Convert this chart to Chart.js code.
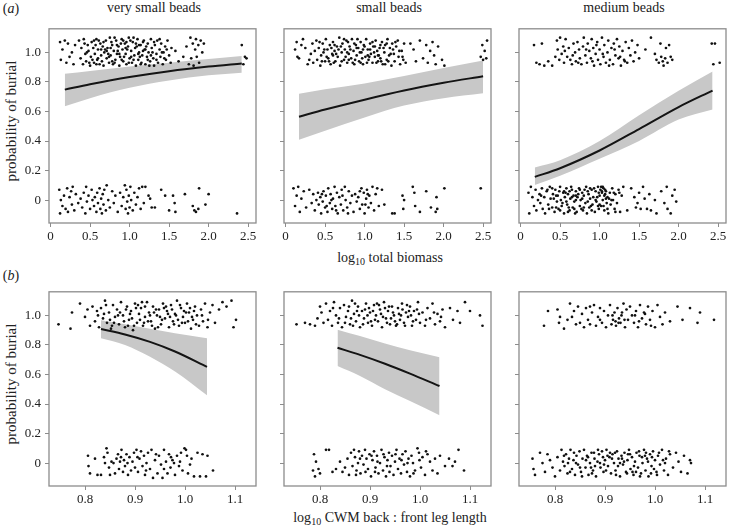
<!DOCTYPE html>
<html lang="en">
<head>
<meta charset="utf-8">
<title>probability of burial</title>
<script src="https://cdn.jsdelivr.net/npm/chart.js@4.4.1/dist/chart.umd.min.js"></script>
<style>
  body { margin:0; background:#fff; font-family:'Liberation Serif', 'Times New Roman', serif; color:#222; }
  #wrap { position:relative; width:730px; height:530px; overflow:hidden; }
  #wrap canvas { position:absolute; }
  .t { position:absolute; white-space:nowrap; transform:translate(-50%,-50%); font-size:14px; }
  .yt { position:absolute; white-space:nowrap; transform:translate(-50%,-50%) rotate(-90deg); font-size:15px; }
  sub { font-size:10px; vertical-align:-3px; line-height:0; }
</style>
</head>
<body>
<div id="wrap">
  <div class="t" style="left:11px;top:9px">(<i>a</i>)</div>
  <div class="t" style="left:11px;top:276px">(<i>b</i>)</div>
  <div class="t" style="left:154px;top:8px">very small beads</div>
  <div class="t" style="left:389px;top:8px">small beads</div>
  <div class="t" style="left:624px;top:8px">medium beads</div>
  <div class="yt" style="left:11px;top:121px">probability of burial</div>
  <div class="yt" style="left:11px;top:384px">probability of burial</div>
  <div class="t" style="left:390px;top:258px">log<sub>10</sub> total biomass</div>
  <div class="t" style="left:390px;top:518px">log<sub>10</sub> CWM back : front leg length</div>
  <canvas id="a1" width="259" height="230" style="left:1px;top:17px"></canvas>
  <canvas id="a2" width="259" height="230" style="left:236px;top:17px"></canvas>
  <canvas id="a3" width="259" height="230" style="left:471px;top:17px"></canvas>
  <canvas id="b1" width="259" height="230" style="left:1px;top:280px"></canvas>
  <canvas id="b2" width="259" height="230" style="left:236px;top:280px"></canvas>
  <canvas id="b3" width="259" height="230" style="left:471px;top:280px"></canvas>
</div>
<script>
// tick labels
var yTicks = [0, 0.2, 0.4, 0.6, 0.8, 1.0];
var xTicksA = [0, 0.5, 1.0, 1.5, 2.0, 2.5];
var xTicksB = [0.8, 0.9, 1.0, 1.1];

// jittered observations: buried (around 1) and not buried (around 0)
// (a) log10 total biomass
var a1Buried = [[0.12,1.07],[0.13,0.95],[0.15,1.02],[0.18,1.08],[0.2,0.93],[0.22,1.06],[0.24,0.97],[0.27,1.0],[0.29,0.92],[0.31,1.05],
[0.36,1.08],[0.38,0.96],[0.39,1.03],[0.41,0.92],[0.42,1.09],[0.44,0.99],[0.45,0.94],[0.47,1.05],[0.48,1.01],[0.5,0.91],[0.51,0.97],[0.52,1.07],[0.54,1.03],[0.55,0.93],[0.56,0.99],[0.58,1.09],[0.59,0.95],[0.6,1.02],[0.62,0.92],[0.63,1.06],[0.64,0.98],[0.66,1.04],[0.67,0.91],[0.68,1.0],[0.7,1.08],[0.71,0.96],[0.72,1.03],[0.74,0.93],[0.75,1.1],[0.76,0.98],[0.78,1.05],[0.79,0.92],[0.8,1.01],[0.82,0.95],[0.83,1.08],[0.84,0.99],[0.86,1.04],[0.87,0.91],[0.88,0.97],[0.9,1.09],[0.91,1.02],[0.92,0.94],[0.94,1.06],[0.95,0.99],[0.96,0.92],[0.98,1.04],[0.99,1.1],[1.0,0.96],[1.02,1.01],[1.03,0.93],[1.04,1.07],[1.06,0.98],[1.07,1.03],[1.08,0.91],[1.1,1.09],[1.11,0.95],[1.12,1.0],[1.14,1.05],[1.15,0.93],[1.16,0.98],[1.18,1.08],[1.19,1.02],[1.2,0.92],[1.22,0.97],[1.23,1.06],[1.24,1.0],[1.26,0.94],[1.27,1.09],[1.28,1.03],[1.3,0.96],[1.31,0.91],[1.32,1.05],[1.34,0.99],[1.35,1.08],[1.36,0.93],[1.38,1.02],[1.39,0.97],[1.4,1.06],[1.42,0.92],[1.43,1.0],[1.45,1.04],[1.46,0.95],[1.48,1.08],[1.5,0.98],[1.52,0.93],[1.53,1.03],
[0.46,1.0],[0.53,0.95],[0.57,1.05],[0.61,1.08],[0.65,0.94],[0.69,1.02],[0.73,0.99],[0.77,1.07],[0.81,0.93],[0.85,1.01],[0.89,1.06],[0.93,0.97],[0.97,1.02],[1.01,1.08],[1.05,0.95],[1.09,1.04],[1.13,0.97],[1.17,1.01],[1.21,1.04],[1.25,0.91],[1.29,1.0],
[0.43,1.06],[0.49,0.93],[0.55,1.08],[0.6,0.96],[0.64,1.02],[0.67,1.07],[0.71,1.01],[0.74,0.97],[0.78,0.94],[0.81,1.1],[0.84,1.05],[0.87,0.99],[0.9,0.95],[0.92,1.08],[0.95,1.03],[0.99,0.93],[1.02,0.97],[1.05,1.1],[1.08,1.06],[1.11,0.99],[1.14,0.92],[1.17,1.07],[1.2,1.02],[1.23,0.95],[1.27,0.98],[1.31,1.07],[1.34,0.95],[1.38,1.09],[1.41,1.0],[1.44,0.96],[1.47,1.02],[0.58,0.92],[0.76,1.03],[0.96,1.07],[1.12,1.05],
[1.58,1.01],[1.62,0.94],[1.68,0.97],[1.72,1.04],[1.75,0.92],[1.77,1.1],[1.78,0.96],[1.8,1.06],[1.81,0.91],[1.83,1.02],[1.84,1.09],[1.85,0.97],[1.87,1.05],[1.88,0.93],[1.9,1.08],[1.92,1.0],[1.94,1.06],
[2.42,1.05],[2.44,0.92],[2.46,0.97],[2.48,0.96]];
var a1Not = [[0.11,0.07],[0.12,-0.09],[0.13,0.0],[0.15,-0.04],[0.17,0.03],[0.19,-0.06],[0.21,0.08],[0.22,-0.08],[0.24,0.02],[0.26,0.06],[0.27,-0.03],[0.28,0.09],[0.3,-0.07],[0.32,0.04],[0.35,-0.02],[0.38,0.01],[0.4,-0.05],[0.42,0.05],[0.44,-0.09],[0.45,0.09],[0.46,-0.01],[0.48,0.03],[0.5,-0.06],[0.52,0.07],[0.53,0.0],[0.55,-0.04],[0.56,0.02],[0.58,-0.08],[0.59,0.05],[0.6,-0.02],[0.62,0.08],[0.63,-0.06],[0.64,0.01],[0.65,-0.09],[0.66,0.04],[0.67,-0.03],[0.68,0.07],[0.7,-0.07],[0.71,0.1],[0.73,0.0],[0.75,-0.05],[0.78,0.06],[0.8,-0.02],[0.82,0.03],[0.85,-0.08],[0.88,0.05],[0.9,-0.04],[0.92,0.02],[0.94,0.1],[0.95,-0.06],[0.96,0.07],[0.97,-0.01],[0.98,-0.09],[0.99,0.03],[1.0,-0.05],[1.01,0.09],[1.02,0.0],[1.04,-0.07],[1.06,0.05],[1.08,-0.03],[1.1,0.02],[1.12,0.08],[1.14,-0.06],[1.16,0.09],[1.18,-0.02],[1.2,0.09],[1.24,0.03],[1.26,0.01],[1.28,-0.05],[1.32,-0.05],[1.4,0.07],[1.45,0.03],[1.5,-0.07],[1.55,0.03],[1.57,-0.02],[1.58,-0.08],[1.7,0.04],[1.8,-0.04],[1.82,-0.07],[1.84,-0.08],[1.87,-0.06],[1.88,0.08],[1.96,-0.03],[2.0,0.04],[2.36,-0.09]];

var a2Buried = [[0.12,1.02],[0.14,1.07],[0.15,0.97],[0.17,0.96],[0.2,1.05],[0.22,1.09],[0.25,1.03],[0.28,0.92],[0.3,0.95],[0.32,0.99],[0.34,1.06],[0.35,0.93],[0.37,1.01],[0.39,1.08],[0.4,0.95],[0.42,1.03],[0.44,0.91],[0.45,0.98],[0.47,1.06],[0.48,1.0],[0.5,0.94],[0.51,1.09],[0.53,1.02],[0.54,0.96],[0.56,1.05],[0.57,0.92],[0.59,0.99],[0.6,1.07],[0.62,1.01],[0.63,0.94],[0.65,1.04],[0.66,0.97],[0.68,1.1],[0.69,0.91],[0.71,1.0],[0.72,1.06],[0.74,0.95],[0.75,1.02],[0.77,1.08],[0.78,0.93],[0.8,0.99],[0.81,1.04],[0.83,0.96],[0.84,1.09],[0.86,1.01],[0.87,0.92],[0.89,1.05],[0.9,0.98],[0.92,1.03],[0.93,0.94],[0.95,1.07],[0.96,1.0],[0.98,0.92],[0.99,1.05],[1.01,0.97],[1.02,1.09],[1.04,1.02],[1.05,0.95],[1.07,1.06],[1.08,0.99],[1.1,0.93],[1.11,1.04],[1.13,0.97],[1.14,1.08],[1.16,1.01],[1.17,0.94],[1.19,1.03],[1.2,0.96],[1.22,1.07],[1.23,0.92],[1.25,1.0],[1.26,1.05],[1.28,0.95],[1.29,1.09],[1.31,0.98],[1.32,1.03],[1.34,0.91],[1.35,1.06],[1.37,0.99],[1.38,0.94],[1.4,1.04],[1.42,1.08],[1.43,0.97],[1.45,0.92],[1.47,1.01],[1.49,0.95],[1.5,1.06],[1.52,0.93],
[0.52,0.97],[0.58,1.03],[0.64,0.99],[0.7,1.04],[0.76,0.97],[0.82,1.02],[0.88,0.95],[0.94,1.0],[1.0,1.04],[1.06,0.97],[1.12,1.0],[1.18,0.98],[1.24,1.03],[1.3,0.94],[1.36,1.02],[0.46,0.94],[0.61,0.93],[0.79,1.07],[0.97,0.96],[1.15,0.93],
[0.43,1.07],[0.49,1.02],[0.55,0.94],[0.6,0.98],[0.67,1.02],[0.71,0.94],[0.74,1.09],[0.78,1.0],[0.85,0.93],[0.87,1.06],[0.91,1.09],[0.95,0.93],[0.98,1.02],[1.03,0.93],[1.07,1.02],[1.1,1.07],[1.13,1.04],[1.17,0.98],[1.21,0.94],[1.26,0.92],[1.28,1.06],[1.33,0.99],[1.39,1.07],[1.44,1.01],[1.48,0.97],[0.62,1.05],[0.8,0.95],[0.9,1.03],[1.04,0.98],[1.2,1.05],
[1.58,1.06],[1.62,1.02],[1.65,0.94],[1.7,1.08],[1.74,0.96],[1.78,1.05],[1.8,0.93],[1.83,1.01],[1.86,1.07],[1.88,0.98],[1.9,0.92],[1.93,1.04],[1.98,0.95],[2.01,0.91],
[2.47,0.97],[2.49,1.05],[2.52,1.01],[2.54,0.96],[2.55,1.08],[2.5,0.95]];
var a2Not = [[0.1,0.08],[0.12,-0.04],[0.14,0.03],[0.16,0.09],[0.18,-0.08],[0.2,0.01],[0.23,0.06],[0.26,-0.05],[0.3,0.07],[0.33,-0.02],[0.35,0.04],[0.37,-0.07],[0.39,0.0],[0.41,0.05],[0.42,-0.03],[0.44,0.02],[0.45,-0.09],[0.47,-0.01],[0.48,0.06],[0.5,-0.05],[0.51,0.03],[0.53,-0.08],[0.54,0.08],[0.56,-0.02],[0.57,0.04],[0.59,-0.06],[0.6,0.01],[0.62,0.09],[0.63,-0.04],[0.65,0.05],[0.66,-0.09],[0.68,0.02],[0.7,-0.03],[0.71,0.07],[0.73,-0.07],[0.75,0.09],[0.76,0.0],[0.78,-0.05],[0.8,0.06],[0.82,-0.02],[0.84,0.03],[0.86,-0.08],[0.88,0.04],[0.9,-0.01],[0.92,0.02],[0.94,-0.06],[0.96,0.08],[0.97,-0.03],[0.99,0.05],[1.0,-0.09],[1.02,0.01],[1.03,0.07],[1.05,-0.05],[1.06,0.03],[1.08,-0.02],[1.1,0.09],[1.12,-0.07],[1.14,0.04],[1.16,0.08],[1.18,-0.04],[0.46,0.04],[0.52,-0.04],[0.58,0.0],[0.64,-0.07],[0.72,0.03],[0.79,-0.09],[0.94,0.06],[1.01,-0.03],[1.04,0.04],
[1.22,0.07],[1.25,-0.03],[1.35,-0.09],[1.38,-0.09],[1.48,0.03],[1.49,-0.06],[1.5,0.0],[1.61,0.09],[1.63,0.05],[1.64,-0.04],[1.7,-0.08],[1.78,0.06],[1.84,-0.05],[1.9,-0.08],[1.91,0.02],[1.92,-0.06],[2.01,0.08],[2.47,0.08]];

var a3Buried = [[0.17,1.05],[0.2,0.93],[0.24,0.92],[0.27,1.06],[0.3,0.91],[0.35,0.94],[0.4,0.91],[0.44,0.97],[0.46,1.08],[0.47,1.02],[0.49,0.95],[0.5,1.1],[0.52,0.99],[0.54,1.04],[0.55,0.93],[0.57,1.09],[0.59,0.97],[0.61,1.03],[0.63,0.95],[0.65,0.92],[0.67,1.06],[0.69,1.0],[0.7,0.94],[0.72,1.07],[0.74,1.02],[0.75,0.96],[0.77,0.92],[0.79,1.04],[0.8,1.1],[0.82,0.98],[0.84,0.93],[0.85,1.06],[0.87,1.01],[0.89,0.96],[0.9,1.09],[0.92,1.03],[0.93,0.91],[0.95,0.99],[0.97,1.07],[0.98,0.95],[1.0,1.02],[1.01,0.92],[1.03,1.1],[1.05,0.97],[1.06,1.05],[1.08,0.93],[1.1,1.0],[1.11,1.08],[1.13,0.95],[1.15,1.03],[1.17,0.92],[1.18,1.06],[1.2,0.98],[1.22,1.09],[1.24,0.96],[1.25,1.04],[1.27,0.91],[1.29,1.01],[1.31,0.95],[1.33,1.07],[1.35,0.93],[1.37,1.03],[1.39,0.98],[1.41,1.08],[1.43,0.94],[1.45,1.0],[1.48,1.05],[1.5,0.96],
[0.56,1.01],[0.66,0.98],[0.73,0.93],[0.83,1.02],[0.91,0.94],[0.96,1.05],[1.04,0.99],[1.12,0.91],[1.19,1.02],[1.26,0.97],[1.32,0.94],
[1.58,1.02],[1.65,1.1],[1.7,0.99],[1.72,0.95],[1.75,0.93],[1.77,1.06],[1.78,0.97],[1.8,0.94],[1.81,0.91],[1.83,0.96],[1.84,1.03],[1.86,0.93],[1.88,1.05],[1.9,0.97],[1.92,0.95],
[2.42,1.06],[2.44,0.92],[2.46,1.06],[2.52,0.93]];
var a3Not = [[0.1,0.05],[0.11,-0.09],[0.13,0.09],[0.15,0.02],[0.17,-0.04],[0.19,0.07],[0.2,-0.07],[0.22,0.0],[0.24,0.04],[0.25,-0.02],[0.27,0.08],[0.28,-0.06],[0.3,0.02],[0.31,-0.09],[0.33,0.06],[0.35,-0.03],[0.37,0.09],[0.38,0.01],[0.4,-0.05],[0.41,0.04],[0.43,-0.08],[0.44,0.07],[0.46,-0.01],[0.47,0.03],[0.48,-0.06],[0.5,0.09],[0.51,0.0],[0.52,-0.04],[0.54,0.05],[0.55,-0.09],[0.56,0.02],[0.58,0.08],[0.59,-0.03],[0.6,0.04],[0.62,-0.07],[0.63,0.01],[0.64,0.09],[0.66,-0.05],[0.67,0.03],[0.68,-0.01],[0.7,0.06],[0.71,-0.08],[0.72,0.02],[0.74,0.08],[0.75,-0.04],[0.76,0.0],[0.78,0.05],[0.79,-0.07],[0.8,0.03],[0.82,-0.02],[0.83,0.09],[0.84,-0.09],[0.86,0.04],[0.87,-0.05],[0.88,0.01],[0.9,0.07],[0.91,-0.03],[0.92,0.02],[0.94,-0.08],[0.95,0.06],[0.96,-0.01],[0.98,0.09],[0.99,-0.06],[1.0,0.03],[1.01,0.07],[1.02,-0.04],[1.03,0.05],[1.04,0.0],[1.05,0.08],[1.06,-0.07],[1.07,0.04],[1.08,0.06],[1.09,-0.02],[1.1,0.02],[1.11,-0.09],[1.13,0.05],[1.14,-0.03],[1.16,0.08],[1.17,0.0],[1.19,-0.06],[1.2,0.04],[1.22,-0.02],[1.24,0.07],[1.26,-0.08],[1.28,0.03],[1.3,0.09],
[0.26,0.03],[0.34,0.07],[0.42,0.01],[0.45,-0.05],[0.49,0.06],[0.53,-0.02],[0.57,0.05],[0.61,-0.05],[0.65,0.02],[0.69,-0.09],[0.73,0.04],[0.77,-0.06],[0.81,0.07],[0.85,-0.01],[0.89,-0.04],[0.93,0.08],[0.97,0.02],[1.0,-0.03],[1.03,0.06],[1.04,0.09],[1.06,0.03],[1.12,0.01],[1.18,0.05],[0.62,0.06],[0.7,0.0],
[0.45,0.03],[0.5,-0.07],[0.55,0.06],[0.6,-0.08],[0.65,0.07],[0.7,0.03],[0.75,0.07],[0.8,-0.05],[0.85,0.06],[0.9,-0.07],[0.95,0.0],[0.99,0.05],[1.02,0.09],[1.05,-0.04],[1.07,0.07],[1.1,-0.06],[1.15,0.0],[1.2,-0.08],[1.25,0.05],[0.4,0.08],[0.36,-0.06],[0.58,-0.01],[0.68,-0.06],[0.78,0.01],[0.88,0.08],[0.98,-0.04],[1.08,0.01],
[1.35,-0.07],[1.4,0.08],[1.44,0.02],[1.46,-0.05],[1.48,-0.02],[1.5,0.05],[1.52,-0.06],[1.55,0.09],[1.57,0.01],[1.6,-0.06],[1.63,0.04],[1.65,-0.07],[1.7,0.0],[1.72,-0.09],[1.78,0.06],[1.82,-0.02],[1.85,0.09],[1.86,-0.06],[1.9,-0.09],[1.92,0.03],[1.95,0.07],[1.97,-0.01]];

// (b) log10 CWM back : front leg length
var b1Buried = [[0.747,0.94],[0.771,0.91],[0.774,1.02],[0.79,1.08],[0.8,0.99],[0.805,1.04],[0.81,0.93],[0.815,1.06],[0.82,0.96],[0.824,1.03],[0.828,0.92],[0.832,1.05],[0.836,0.98],[0.84,1.1],[0.844,0.95],[0.848,1.02],[0.852,0.91],[0.856,1.07],[0.86,0.99],[0.864,1.04],[0.868,0.94],[0.872,1.09],[0.876,1.0],[0.88,0.92],[0.884,1.06],[0.888,0.97],[0.892,1.03],[0.896,0.9],[0.9,1.08],[0.904,0.95],[0.908,1.01],[0.912,1.05],[0.916,0.93],[0.92,0.99],[0.924,1.09],[0.928,1.02],[0.932,0.96],[0.936,1.06],[0.94,0.91],[0.944,1.0],[0.948,1.04],[0.952,0.94],[0.956,1.08],[0.96,0.98],[0.964,1.03],[0.968,0.92],[0.972,1.07],[0.976,0.96],[0.98,1.01],[0.984,1.1],[0.988,0.93],[0.992,1.05],[0.996,0.99],[1.0,0.95],[1.004,1.08],[1.008,1.02],[1.012,0.91],[1.016,0.97],[1.02,1.06],[1.024,1.0],[1.028,0.93],[1.032,1.04],[1.036,0.96],[1.04,1.08],[1.045,0.92],[1.05,1.02],
[0.858,0.95],[0.87,1.02],[0.882,1.04],[0.894,0.98],[0.906,1.07],[0.918,0.95],[0.93,1.0],[0.942,1.04],[0.954,0.97],[0.966,1.01],[0.978,0.94],[0.99,1.07],[1.002,1.02],[1.014,0.99],[0.886,0.93],[0.91,0.97],[0.934,0.93],[0.958,1.05],[0.982,1.0],[1.006,0.96],[0.85,0.97],[0.838,1.01],
[0.826,1.0],[0.842,1.07],[0.854,0.93],[0.866,1.0],[0.878,0.96],[0.89,1.01],[0.902,1.05],[0.914,1.09],[0.926,0.96],[0.938,1.02],[0.95,0.99],[0.962,1.06],[0.974,1.04],[0.986,0.97],[0.998,1.03],[1.01,1.05],[1.022,0.94],[1.034,1.0],[1.046,0.97],[0.92,1.06],[0.946,0.92],[0.97,0.99],[0.994,0.95],[1.018,1.03],[0.898,0.93],
[1.055,1.07],[1.06,0.95],[1.068,1.04],[1.075,1.09],[1.083,1.06],[1.093,1.1],[1.097,0.92],[1.102,0.97]];
var b1Not = [[0.806,0.05],[0.807,-0.02],[0.81,-0.07],[0.82,0.03],[0.825,-0.08],[0.832,-0.08],[0.838,0.04],[0.84,0.0],[0.843,0.1],[0.845,0.07],[0.848,-0.03],[0.85,-0.08],[0.853,0.01],[0.857,0.0],[0.86,-0.07],[0.863,0.03],[0.866,0.06],[0.868,-0.04],[0.87,0.01],[0.873,0.09],[0.876,-0.06],[0.878,0.02],[0.88,-0.02],[0.883,0.06],[0.886,-0.08],[0.889,0.04],[0.892,-0.05],[0.895,0.01],[0.898,0.07],[0.9,-0.03],[0.903,0.09],[0.906,-0.06],[0.909,0.03],[0.912,0.08],[0.915,-0.02],[0.918,0.05],[0.92,-0.08],[0.923,0.0],[0.926,0.07],[0.93,-0.04],[0.933,0.09],[0.936,-0.1],[0.94,0.02],[0.945,-0.07],[0.948,0.05],[0.952,-0.01],[0.955,-0.1],[0.958,0.09],[0.962,0.01],[0.965,-0.07],[0.968,0.06],[0.971,-0.03],[0.975,0.02],[0.978,0.0],[0.98,-0.08],[0.984,0.05],[0.988,-0.02],[0.99,0.01],[0.995,-0.05],[0.999,0.1],[1.002,0.09],[1.004,0.05],[1.006,-0.07],[1.01,-0.01],[1.013,0.03],[1.018,-0.09],[1.025,0.07],[1.03,-0.09],[1.035,0.06],[1.042,-0.09],[1.045,0.05],[1.056,-0.05],
[0.872,0.04],[0.885,0.0],[0.905,0.04],[0.922,-0.05],[0.942,0.06],[0.958,-0.04],[0.972,0.04],[0.992,0.07]];

var b2Buried = [[0.753,0.94],[0.77,0.95],[0.78,0.94],[0.79,0.93],[0.795,0.98],[0.8,1.06],[0.803,1.02],[0.807,0.95],[0.812,1.08],[0.816,0.97],[0.82,1.03],[0.824,0.93],[0.828,1.09],[0.832,1.0],[0.836,0.95],[0.84,1.05],[0.844,0.92],[0.848,1.07],[0.852,0.99],[0.856,1.03],[0.86,0.94],[0.864,1.1],[0.868,1.01],[0.872,0.96],[0.876,1.06],[0.88,0.92],[0.884,1.03],[0.888,0.98],[0.892,1.08],[0.896,0.95],[0.9,1.02],[0.904,0.93],[0.908,1.07],[0.912,1.0],[0.916,0.96],[0.92,1.04],[0.924,0.92],[0.928,1.09],[0.932,0.98],[0.936,1.03],[0.94,0.94],[0.944,1.06],[0.948,1.0],[0.952,0.93],[0.956,1.05],[0.96,0.97],[0.964,1.08],[0.968,0.95],[0.972,1.02],[0.976,0.99],[0.98,1.06],[0.984,0.93],[0.988,1.03],[0.992,0.97],[0.996,1.09],[1.0,0.95],[1.005,1.02],[1.01,0.93],[1.015,1.05],[1.02,0.98],[1.025,1.08],[1.03,0.94],[1.035,1.01],[1.04,0.96],[1.045,1.04],[1.05,0.92],
[0.85,0.95],[0.862,0.98],[0.874,1.03],[0.886,0.94],[0.898,1.05],[0.91,0.97],[0.922,1.01],[0.934,0.95],[0.946,1.02],[0.958,1.01],[0.97,0.93],[0.982,1.0],[0.994,1.04],[0.87,1.08],[0.895,1.0],[0.918,1.07],[0.942,0.98],[0.965,1.04],
[0.826,1.05],[0.838,0.98],[0.858,1.06],[0.866,0.93],[0.878,1.0],[0.89,1.04],[0.902,0.96],[0.914,1.08],[0.926,0.99],[0.938,1.06],[0.95,0.96],[0.962,1.0],[0.974,1.07],[0.986,0.96],[0.998,1.01],[1.012,0.97],[1.028,1.02],[1.042,0.99],[0.906,1.03],[0.93,1.05],[0.954,0.94],[0.978,1.03],
[1.06,1.05],[1.066,0.97],[1.075,1.03],[1.08,0.95],[1.09,1.09],[1.1,1.03],[1.12,1.0],[1.125,0.93]];
var b2Not = [[0.786,-0.05],[0.788,0.06],[0.79,-0.09],[0.792,0.01],[0.797,-0.04],[0.8,-0.07],[0.812,0.09],[0.818,0.09],[0.825,-0.06],[0.832,-0.04],[0.84,0.01],[0.845,-0.06],[0.85,-0.03],[0.855,0.03],[0.858,-0.08],[0.862,0.07],[0.865,-0.02],[0.868,0.09],[0.87,0.04],[0.873,-0.05],[0.876,0.0],[0.878,0.08],[0.881,-0.07],[0.884,0.05],[0.887,-0.01],[0.89,0.09],[0.893,0.03],[0.896,-0.04],[0.899,0.06],[0.902,-0.09],[0.905,0.02],[0.908,0.08],[0.911,-0.03],[0.914,0.05],[0.917,-0.07],[0.92,0.0],[0.923,0.09],[0.926,-0.05],[0.929,0.04],[0.932,-0.09],[0.935,0.02],[0.938,0.07],[0.941,-0.02],[0.944,0.05],[0.947,-0.08],[0.95,0.01],[0.953,0.09],[0.956,-0.04],[0.959,0.03],[0.962,-0.07],[0.965,0.06],[0.968,-0.01],[0.971,0.08],[0.974,-0.06],[0.977,0.03],[0.98,-0.09],[0.983,0.05],[0.986,0.0],[0.99,-0.05],[0.995,0.1],[0.998,0.07],[1.002,-0.03],[1.005,0.04],[1.01,-0.08],[1.015,0.06],[1.02,0.01],[1.025,-0.05],[1.03,0.03],[1.035,-0.07],[1.04,0.05],[1.05,-0.02],[1.058,0.03],[1.065,-0.02],[1.07,0.01],[1.077,0.09],[1.088,-0.05],
[0.872,-0.08],[0.88,0.03],[0.891,-0.06],[0.903,0.05],[0.915,0.01],[0.927,0.06],[0.939,-0.06],[0.951,0.06],[0.963,0.02],[0.975,0.0],[0.987,-0.07],[0.999,0.02],[1.012,0.08],[0.91,-0.06],[0.934,-0.02]];

var b3Buried = [[0.778,0.93],[0.786,1.03],[0.805,1.04],[0.808,0.95],[0.81,0.99],[0.818,0.91],[0.825,0.97],[0.83,1.08],[0.834,0.99],[0.838,1.03],[0.842,0.94],[0.846,1.06],[0.85,0.95],[0.854,1.01],[0.858,0.92],[0.862,1.05],[0.866,0.97],[0.87,0.94],[0.874,1.02],[0.878,1.07],[0.882,0.93],[0.886,0.99],[0.89,1.05],[0.894,0.95],[0.898,1.03],[0.902,0.92],[0.906,1.0],[0.91,1.07],[0.913,0.94],[0.916,0.97],[0.919,1.02],[0.922,0.93],[0.925,1.05],[0.928,0.98],[0.931,0.95],[0.934,1.02],[0.937,1.08],[0.94,0.92],[0.943,1.04],[0.946,0.97],[0.95,1.06],[0.954,1.0],[0.958,0.95],[0.962,1.03],[0.966,0.92],[0.97,1.07],[0.974,0.98],[0.978,1.02],[0.982,0.94],[0.986,1.06],[0.99,0.97],[0.995,1.03],[1.0,0.92],[1.005,1.07],[1.01,0.99],[1.015,0.94],[1.02,1.02],[1.03,0.96],[1.045,1.06],[1.055,0.97],[1.07,1.05],[1.085,0.95],[1.09,1.02],[1.118,0.97],
[0.915,1.0],[0.921,0.96],[0.927,0.95],[0.933,1.0],[0.939,0.97],[0.96,1.0],[0.968,0.96],[0.98,1.01],[0.992,0.93],[0.87,1.06],[0.89,0.97]];
var b3Not = [[0.755,0.03],[0.757,-0.04],[0.76,-0.08],[0.77,0.07],[0.775,0.0],[0.78,-0.06],[0.785,0.06],[0.79,0.02],[0.795,-0.03],[0.8,-0.09],[0.805,0.04],[0.81,-0.05],[0.813,0.09],[0.816,0.01],[0.819,-0.02],[0.822,0.06],[0.825,-0.07],[0.828,0.03],[0.831,0.09],[0.834,-0.04],[0.837,0.02],[0.84,-0.08],[0.843,0.05],[0.846,-0.01],[0.849,0.08],[0.852,-0.06],[0.855,0.03],[0.858,0.09],[0.861,-0.03],[0.864,0.05],[0.867,-0.08],[0.87,0.0],[0.873,0.07],[0.876,-0.05],[0.879,0.03],[0.882,-0.09],[0.885,0.01],[0.888,0.06],[0.891,-0.03],[0.894,0.08],[0.897,-0.06],[0.9,0.02],[0.903,0.09],[0.906,-0.02],[0.909,0.04],[0.912,-0.07],[0.915,0.06],[0.918,0.0],[0.921,-0.05],[0.924,0.08],[0.927,0.03],[0.93,-0.09],[0.933,0.05],[0.936,-0.01],[0.939,0.07],[0.942,-0.06],[0.945,0.02],[0.948,0.09],[0.951,-0.04],[0.954,0.04],[0.957,-0.08],[0.96,0.01],[0.963,0.07],[0.966,-0.03],[0.969,0.05],[0.972,-0.07],[0.975,0.0],[0.978,0.09],[0.981,-0.05],[0.984,0.03],[0.987,-0.09],[0.99,0.06],[0.993,-0.02],[0.996,0.08],[1.0,0.02],[1.003,-0.06],[1.006,0.05],[1.01,-0.01],[1.014,0.09],[1.018,-0.05],[1.022,0.03],[1.026,-0.08],[1.03,0.06],[1.036,-0.03],[1.042,0.07],[1.047,0.01],[1.052,-0.06],[1.058,0.05],[1.065,-0.07],[1.07,0.02],[1.072,0.0],
[0.818,0.05],[0.83,-0.06],[0.842,0.0],[0.854,-0.09],[0.866,0.04],[0.878,0.07],[0.89,0.0],[0.902,-0.05],[0.914,0.03],[0.926,-0.02],[0.938,0.01],[0.95,0.06],[0.962,-0.06],[0.974,0.04],[0.986,0.01],[0.998,-0.04],[1.008,0.07],[1.02,0.0],[0.872,-0.03],[0.896,0.04],[0.92,0.07],[0.944,-0.07],[0.968,0.08],[0.992,-0.07],
[0.826,0.0],[0.838,0.07],[0.85,-0.03],[0.862,0.02],[0.874,-0.07],[0.886,0.09],[0.898,-0.01],[0.91,0.07],[0.922,-0.08],[0.934,0.03],[0.946,0.06],[0.958,-0.02],[0.97,-0.09],[0.982,0.07],[0.994,0.04],[1.004,-0.08],[1.016,0.02],[1.028,0.08],[0.88,-0.02],[0.905,0.05],[0.93,0.0],[0.955,-0.06],[0.98,0.05]];

// fitted probability and 95% band
var a1FitX = [0.18, 0.5, 1.0, 1.5, 2.0, 2.42];
var a1Fit = [0.748, 0.784, 0.833, 0.873, 0.904, 0.925];
var a1Lo = [0.636, 0.69, 0.76, 0.81, 0.845, 0.862];
var a1Hi = [0.855, 0.875, 0.905, 0.93, 0.955, 0.975];

var a2FitX = [0.17, 0.5, 1.0, 1.5, 2.0, 2.5];
var a2Fit = [0.565, 0.613, 0.68, 0.742, 0.794, 0.839];
var a2Lo = [0.408, 0.47, 0.56, 0.64, 0.69, 0.723];
var a2Hi = [0.72, 0.75, 0.79, 0.84, 0.895, 0.946];

var a3FitX = [0.18, 0.5, 1.0, 1.5, 2.0, 2.43];
var a3Fit = [0.157, 0.216, 0.336, 0.481, 0.63, 0.742];
var a3Lo = [0.103, 0.165, 0.28, 0.40, 0.545, 0.613];
var a3Hi = [0.221, 0.27, 0.40, 0.575, 0.74, 0.871];

var b1FitX = [0.832, 0.88, 0.93, 0.98, 1.044];
var b1Fit = [0.908, 0.871, 0.821, 0.756, 0.652];
var b1Lo = [0.846, 0.80, 0.72, 0.62, 0.459];
var b1Hi = [0.968, 0.94, 0.91, 0.88, 0.846];

var b2FitX = [0.835, 0.88, 0.93, 0.98, 1.039];
var b2Fit = [0.781, 0.733, 0.673, 0.606, 0.522];
var b2Lo = [0.657, 0.59, 0.50, 0.42, 0.324];
var b2Hi = [0.903, 0.86, 0.81, 0.765, 0.717];

var yMin = -0.155, yMax = 1.16;
var xRangeA = [-0.02, 2.6];
var xRangeB = [0.728, 1.142];

function pts(arr) {
  return arr.map(function(p) { return {x: p[0], y: p[1]}; });
}
function line(xs, ys) {
  return xs.map(function(x, i) { return {x: x, y: ys[i]}; });
}
function fmt(v) {
  return v === 0 ? '0' : v.toFixed(1);
}

var frame = {
  id: 'frame',
  afterDraw: function(chart) {
    var a = chart.chartArea, ctx = chart.ctx;
    ctx.save();
    ctx.strokeStyle = '#8c8c8c';
    ctx.lineWidth = 1.3;
    ctx.strokeRect(a.left, a.top, a.right - a.left, a.bottom - a.top);
    ctx.restore();
  }
};

var tickFont = {family: "'Liberation Serif', 'Times New Roman', serif", size: 13};

function panel(id, range, xTicks, showY, buried, notBuried, fx, fit, lo, hi) {
  var ds = [];
  if (fx) {
    ds.push({type: 'line', data: line(fx, hi), borderWidth: 0, pointRadius: 0, fill: '+1',
             backgroundColor: '#c8c8c8', cubicInterpolationMode: 'monotone', order: 3});
    ds.push({type: 'line', data: line(fx, lo), borderWidth: 0, pointRadius: 0, fill: false,
             cubicInterpolationMode: 'monotone', order: 3});
  }
  ds.push({data: pts(buried), pointRadius: 1.35, pointBackgroundColor: '#111', pointBorderWidth: 0, order: 2});
  ds.push({data: pts(notBuried), pointRadius: 1.35, pointBackgroundColor: '#111', pointBorderWidth: 0, order: 2});
  if (fx) {
    ds.push({type: 'line', data: line(fx, fit), borderColor: '#141414', borderWidth: 2, pointRadius: 0,
             fill: false, cubicInterpolationMode: 'monotone', order: 1});
  }
  new Chart(document.getElementById(id), {
    type: 'scatter',
    data: {datasets: ds},
    options: {
      responsive: false,
      animation: false,
      layout: {padding: {top: 2, right: 2, left: 0, bottom: 0}},
      plugins: {legend: {display: false}, tooltip: {enabled: false}},
      scales: {
        x: {
          type: 'linear', min: range[0], max: range[1],
          afterBuildTicks: function(s) { s.ticks = xTicks.map(function(v) { return {value: v}; }); },
          afterFit: function(s) { s.height = 24; },
          grid: {drawOnChartArea: false, drawTicks: true, tickLength: 4, color: '#8c8c8c'},
          border: {display: false},
          ticks: {padding: 2, color: '#222', font: tickFont, maxRotation: 0, autoSkip: false, callback: fmt}
        },
        y: {
          type: 'linear', min: yMin, max: yMax,
          afterBuildTicks: function(s) { s.ticks = yTicks.map(function(v) { return {value: v}; }); },
          afterFit: function(s) { s.width = 48; },
          grid: {drawOnChartArea: false, drawTicks: true, tickLength: 4, color: '#8c8c8c'},
          border: {display: false},
          ticks: {padding: 4, color: '#222', font: tickFont, autoSkip: false,
                  callback: function(v) { return showY ? fmt(v) : ''; }}
        }
      }
    },
    plugins: [frame]
  });
}

panel('a1', xRangeA, xTicksA, true, a1Buried, a1Not, a1FitX, a1Fit, a1Lo, a1Hi);
panel('a2', xRangeA, xTicksA, false, a2Buried, a2Not, a2FitX, a2Fit, a2Lo, a2Hi);
panel('a3', xRangeA, xTicksA, false, a3Buried, a3Not, a3FitX, a3Fit, a3Lo, a3Hi);
panel('b1', xRangeB, xTicksB, true, b1Buried, b1Not, b1FitX, b1Fit, b1Lo, b1Hi);
panel('b2', xRangeB, xTicksB, false, b2Buried, b2Not, b2FitX, b2Fit, b2Lo, b2Hi);
panel('b3', xRangeB, xTicksB, false, b3Buried, b3Not, null, null, null, null);
</script>
</body>
</html>
